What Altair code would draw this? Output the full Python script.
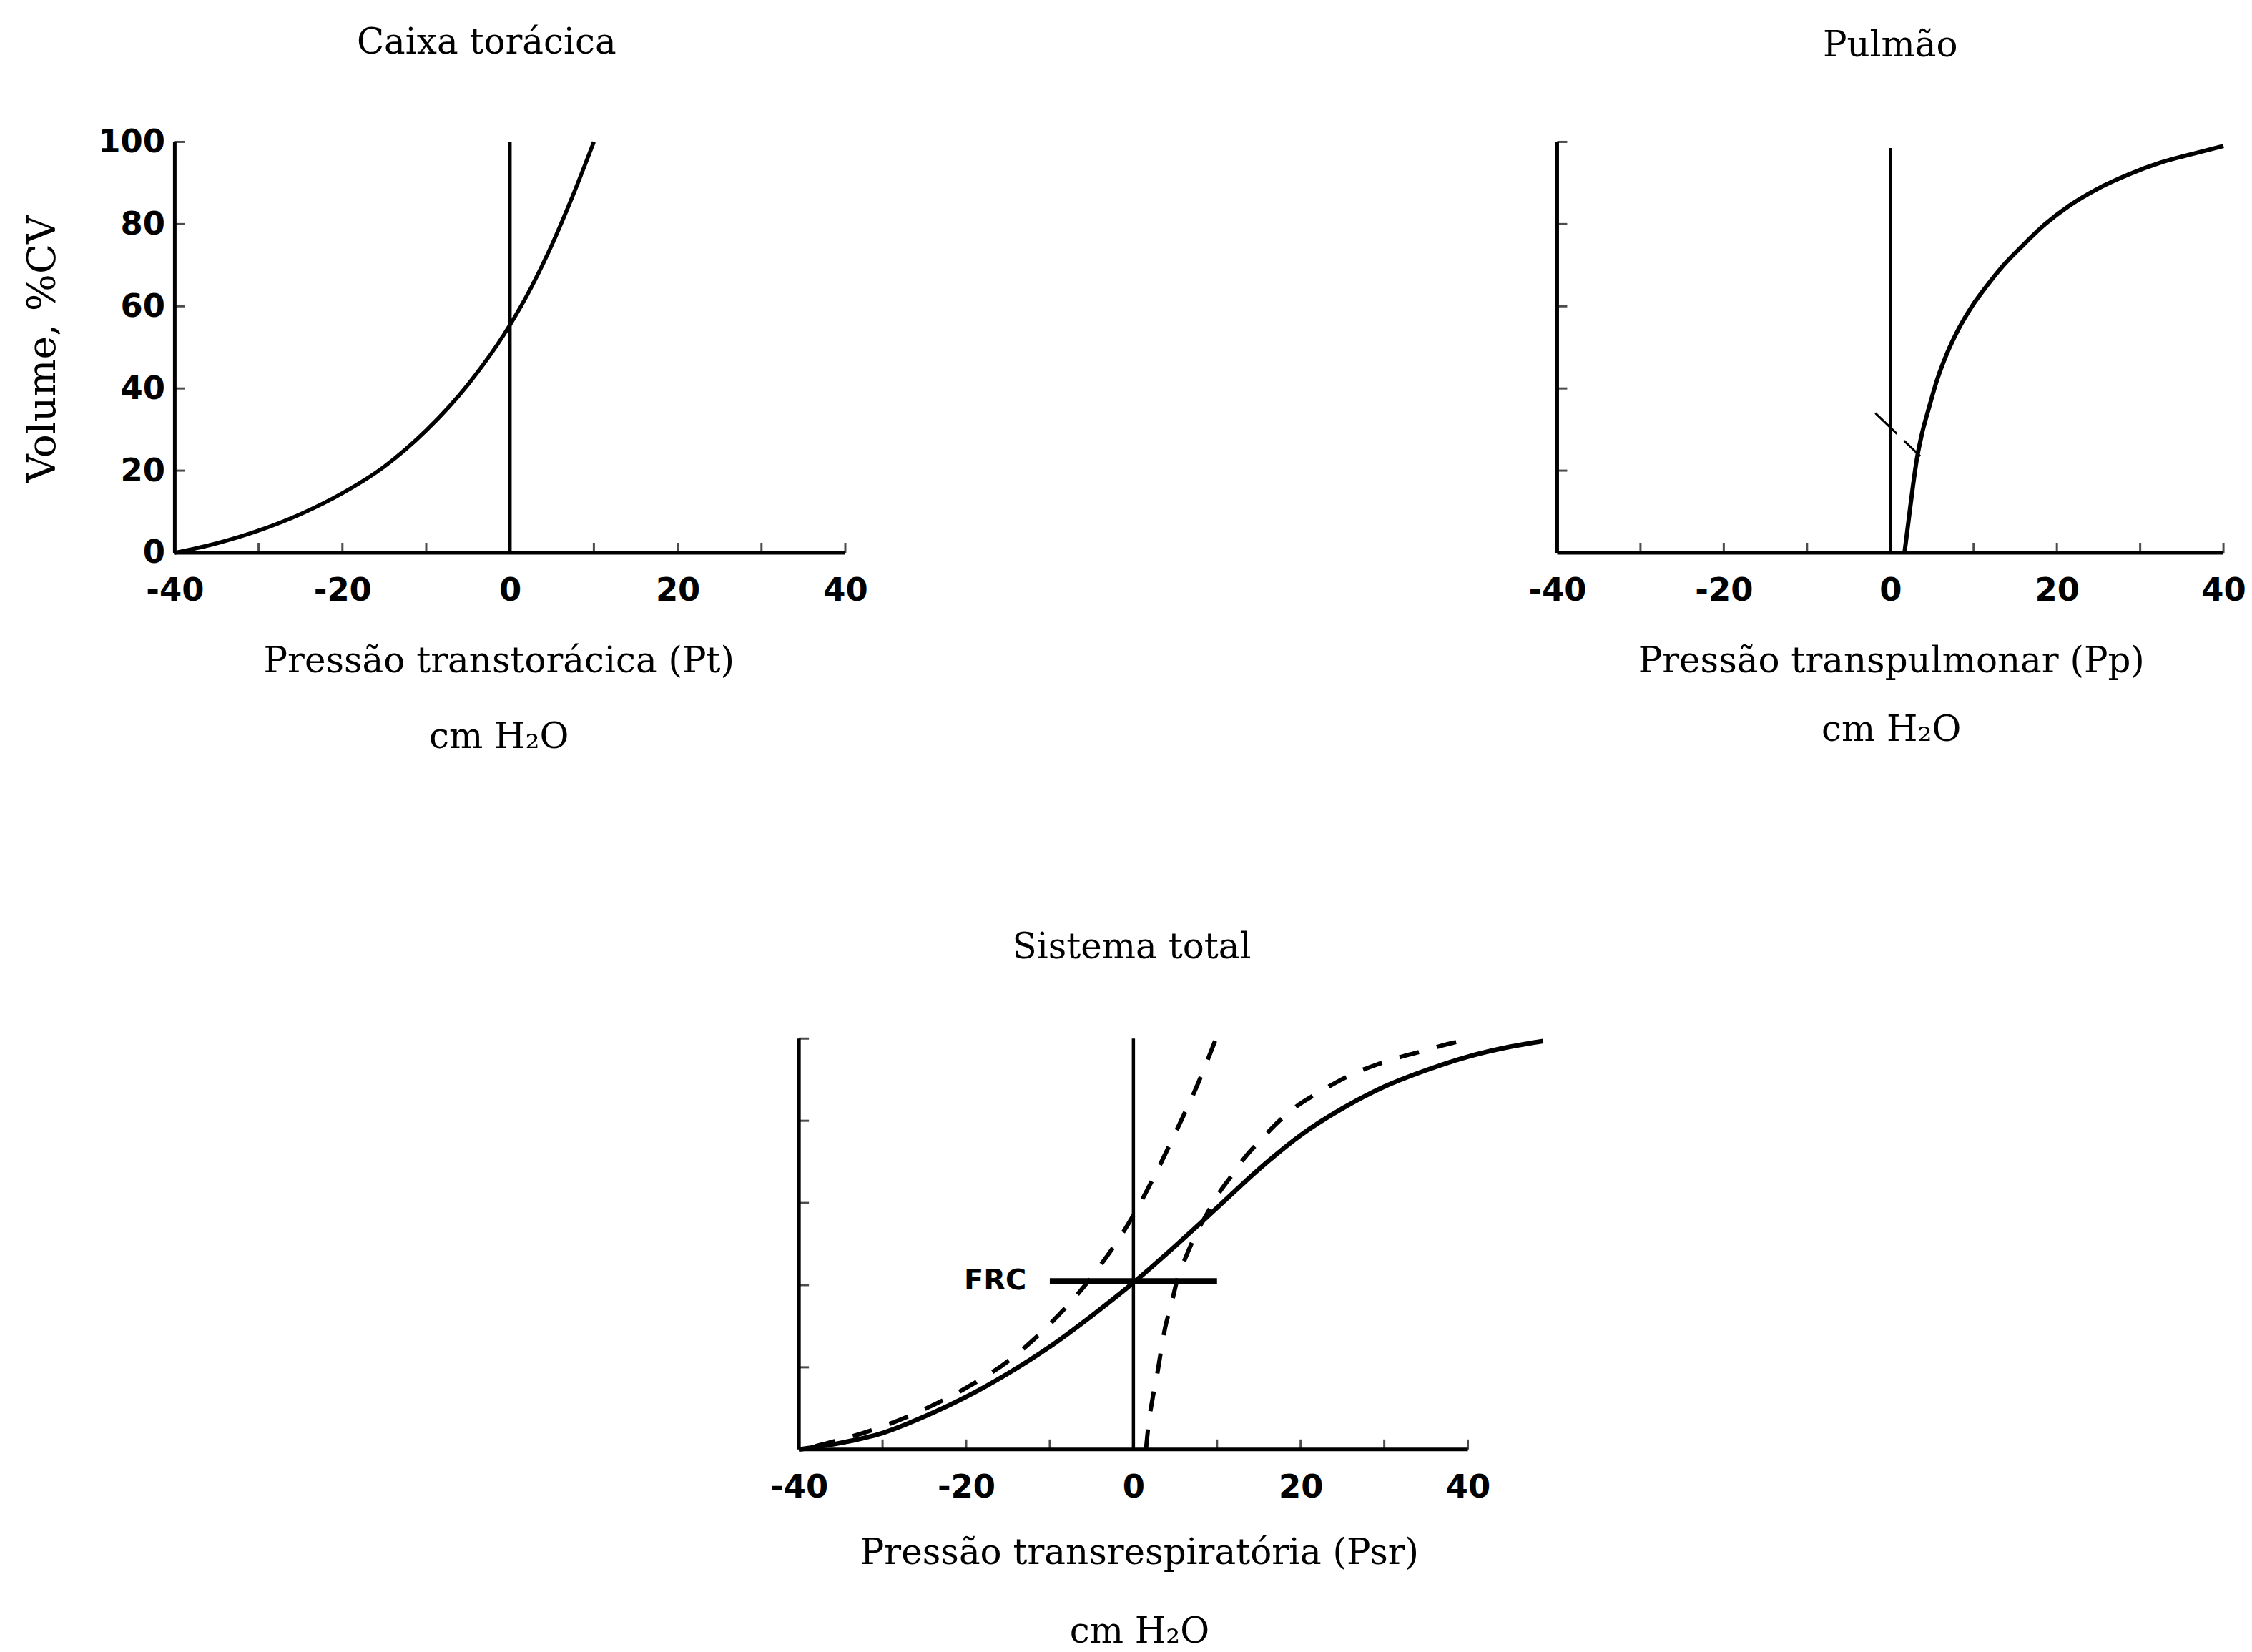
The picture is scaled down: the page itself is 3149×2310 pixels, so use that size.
import altair as alt
import pandas as pd

# ---------------- data ----------------
x_label_values = [-40, -20, 0, 20, 40]
y_label_values = [0, 20, 40, 60, 80, 100]
x_minor_ticks = [-30, -20, -10, 10, 20, 30, 40]
y_minor_ticks = [20, 40, 60, 80, 100]
axis_span_p = [-40, 40]
axis_span_v = [0, 100]

# Caixa torácica (chest wall)
chest_p = [-40, -35, -30, -25, -20, -15, -10, -5, 0, 2.5, 5, 7.5, 10]
chest_v = [0, 2.3, 5.4, 9.4, 14.5, 21, 29.8, 41, 55.5, 64.5, 75, 87, 100]

# Pulmão (lung)
lung_p = [1.7, 2.2, 2.7, 3.2, 3.8, 4.6, 5.6, 6.8, 8.2, 9.8, 11.6, 13.6, 16, 18.6, 21.5,
          24.8, 28.5, 32.5, 36.5, 40]
lung_v = [0, 8, 16, 23, 29, 35, 42, 48.5, 54.5, 60, 65, 70, 75, 80, 84.5,
          88.5, 92, 95, 97.2, 99]
lung_ext_p = [-1.8, 3.6]
lung_ext_v = [34, 23.5]
lung_zero_top = 98.5

# Sistema total
total_p = [-40, -35, -30, -25, -20, -15, -10, -5, 0, 5, 10, 15, 20, 25, 30, 35, 40, 45, 49]
total_v = [0, 1.6, 4, 8, 12.8, 18.5, 25, 32.5, 40.6, 49.5, 58.8, 68.2, 76.5, 83, 88.3,
           92.3, 95.6, 98, 99.4]
sys_chest_p = [-38, -35, -30, -25, -20, -15, -10, -5, 0, 2.5, 5, 7.5, 9.8]
sys_chest_v = [0.8, 2.4, 5.6, 9.8, 15, 21.5, 30.5, 42, 57, 66.5, 77, 88, 99.6]
sys_lung_p = [1.5, 1.8, 2.3, 2.9, 3.3, 3.8, 4.5, 5.2, 6.3, 7.5, 8.7, 10.1, 11.7, 13.3, 15.3,
              17.2, 19.5, 22.1, 24.4, 26.7, 29.3, 31.9, 34.5, 36.7, 39.6]
sys_lung_v = [0, 6, 12.5, 19, 24, 29.7, 35, 41, 47, 52.5, 57, 62, 66.5, 71, 75.5,
              79.5, 83.5, 86.8, 89.5, 91.8, 93.8, 95.5, 96.9, 98.2, 99.6]
frc_volume = 41
frc_span = [-10, 10]
frc_label_p = -12.8

SERIF = "DejaVu Serif"
SANS = "DejaVu Sans"


def curve_df(p, v):
    return pd.DataFrame({"p": p, "v": v, "i": list(range(len(p)))})


def enc_x(dom, title=None, tx=0, ty=0, lh=100):
    kw = dict(values=x_label_values, labelExpr="'' + datum.value", domain=False, ticks=False,
              tickSize=0, grid=False, labelFont=SANS, labelFontWeight="bold", labelFontSize=45,
              labelColor="black", labelPadding=67, labelBaseline="alphabetic", labelFlush=False,
              labelOverlap=False)
    if title is not None:
        kw.update(title=title, titleFont=SERIF, titleFontSize=50, titleFontWeight="normal",
                  titleColor="black", titleX=tx, titleY=ty, titleBaseline="alphabetic",
                  titleAlign="center", titleLineHeight=lh)
    else:
        kw.update(title=None)
    return alt.X("p:Q", scale=alt.Scale(domain=dom, nice=False, zero=False), axis=alt.Axis(**kw))


def enc_y(labels=False, title=None):
    kw = dict(domain=False, ticks=False, tickSize=0, grid=False)
    if labels:
        kw.update(values=y_label_values, labelExpr="'' + datum.value", labelFont=SANS,
                  labelFontWeight="bold", labelFontSize=45, labelColor="black", labelPadding=14,
                  labelBaseline="middle", labelFlush=False, labelOverlap=False)
    else:
        kw.update(labels=False)
    if title is not None:
        kw.update(title=title, titleFont=SERIF, titleFontSize=55, titleFontWeight="normal",
                  titleColor="black", titleX=-168, titleY=290, titleAngle=270,
                  titleBaseline="alphabetic", titleAlign="center")
    else:
        kw.update(title=None)
    return alt.Y("v:Q", scale=alt.Scale(domain=[0, 100], nice=False, zero=False), axis=alt.Axis(**kw))


def frame_layers(X, Y, zero_top=100):
    xline = alt.Chart(pd.DataFrame({"p": [axis_span_p[0]], "p2": [axis_span_p[1]], "v": [0]})).mark_rule(
        strokeWidth=5, color="black").encode(x=X, x2="p2:Q", y=Y)
    yline = alt.Chart(pd.DataFrame({"p": [axis_span_p[0]], "v": [axis_span_v[0]], "v2": [axis_span_v[1]]})).mark_rule(
        strokeWidth=5, color="black").encode(x=X, y=Y, y2="v2:Q")
    zline = alt.Chart(pd.DataFrame({"p": [0], "v": [0], "v2": [zero_top]})).mark_rule(
        strokeWidth=4.5, color="black").encode(x=X, y=Y, y2="v2:Q")
    xt = alt.Chart(pd.DataFrame({"p": x_minor_ticks, "v": [0] * len(x_minor_ticks)})).mark_tick(
        orient="vertical", size=14, thickness=3, yOffset=-7, color="black").encode(x=X, y=Y)
    yt = alt.Chart(pd.DataFrame({"p": [-40] * len(y_minor_ticks), "v": y_minor_ticks})).mark_tick(
        orient="horizontal", size=14, thickness=3, xOffset=7, color="black").encode(x=X, y=Y)
    return [xline, yline, zline, xt, yt]


def line_layer(p, v, X, Y, width=6, dash=None):
    kw = dict(interpolate="monotone", strokeWidth=width, color="black", strokeCap="butt")
    if dash:
        kw["strokeDash"] = dash
    return alt.Chart(curve_df(p, v)).mark_line(**kw).encode(x=X, y=Y, order="i:Q")


def title(text, offset, dx=0):
    return alt.TitleParams(text=text, font=SERIF, fontSize=50, fontWeight="normal", color="black",
                           anchor="middle", frame="group", baseline="alphabetic", offset=offset, dx=dx)


# ---------------- panel 1: Caixa torácica ----------------
X1 = enc_x([-40, 40], ["Pressão transtorácica (Pt)", "cm H₂O"], tx=454, ty=167, lh=106)
Y1 = enc_y(labels=True, title="Volume, %CV")
p1 = alt.layer(*frame_layers(X1, Y1), line_layer(chest_p, chest_v, X1, Y1, width=5.5)).properties(
    width=940, height=576, title=title("Caixa torácica", 52, dx=-33))

# ---------------- panel 2: Pulmão ----------------
X2 = enc_x([-40, 40], ["Pressão transpulmonar (Pp)", "cm H₂O"], tx=468, ty=167, lh=96)
Y2 = enc_y()
p2 = alt.layer(*frame_layers(X2, Y2, zero_top=lung_zero_top),
               line_layer(lung_ext_p, lung_ext_v, X2, Y2, width=3, dash=[42, 14]),
               line_layer(lung_p, lung_v, X2, Y2, width=6)).properties(
    width=934, height=576, title=title("Pulmão", 64))

# ---------------- panel 3: Sistema total ----------------
X3 = enc_x([-40, 50], ["Pressão transrespiratória (Psr)", "cm H₂O"], tx=477, ty=160, lh=110)
Y3 = enc_y()
frc_rule = alt.Chart(pd.DataFrame({"p": [frc_span[0]], "p2": [frc_span[1]], "v": [frc_volume]})).mark_rule(
    strokeWidth=8, color="black").encode(x=X3, x2="p2:Q", y=Y3)
frc_text = alt.Chart(pd.DataFrame({"p": [frc_label_p], "v": [frc_volume], "lab": ["FRC"]})).mark_text(
    align="right", baseline="middle", font=SANS, fontWeight="bold", fontSize=40, color="black").encode(
    x=X3, y=Y3, text="lab:N")
p3 = alt.layer(*frame_layers(X3, Y3),
               line_layer(sys_chest_p, sys_chest_v, X3, Y3, width=6, dash=[28, 26]),
               line_layer(sys_lung_p, sys_lung_v, X3, Y3, width=6, dash=[28, 26]),
               line_layer(total_p, total_v, X3, Y3, width=6.5),
               frc_rule, frc_text).properties(
    width=1055, height=576, title=title("Sistema total", 53, dx=-61))

spacer = alt.Chart(pd.DataFrame({"p": [0], "v": [0]})).mark_point(
    opacity=0, size=0, filled=True).encode(
    x=alt.X("p:Q", axis=None), y=alt.Y("v:Q", axis=None)).properties(width=1, height=1)

row1 = alt.hconcat(p1, p2, spacing=998, bounds="flush")
row2 = alt.hconcat(spacer, p3, spacing=874, bounds="flush")
chart = alt.vconcat(row1, row2, spacing=1257, bounds="flush").properties(
    padding={"left": 25, "top": 24, "right": 0, "bottom": 0},
    background="white",
).configure_view(stroke=None)

chart.save("out.html", embed_options={"renderer": "svg", "actions": False})
